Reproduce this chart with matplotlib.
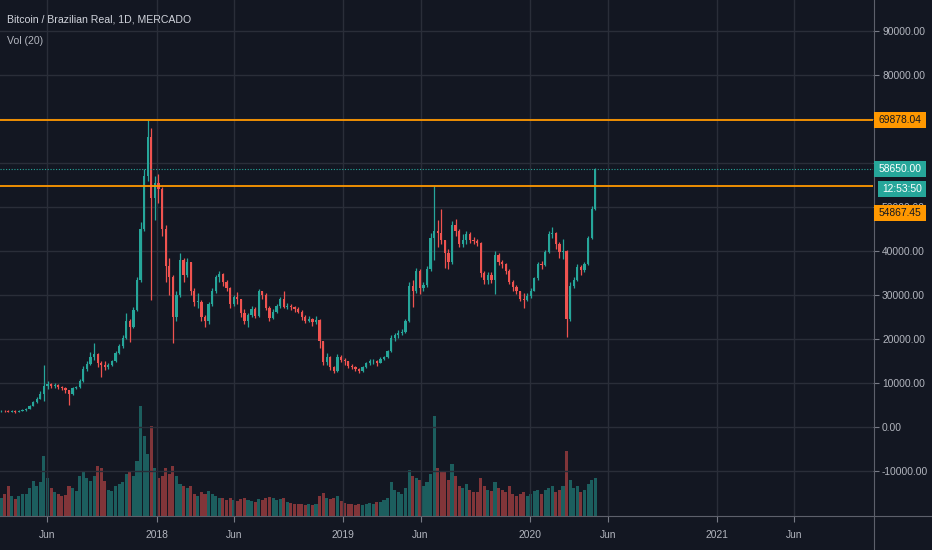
import numpy as np
import matplotlib
matplotlib.use("Agg")
import matplotlib.pyplot as plt
import matplotlib.dates as mdates
from matplotlib.patches import Rectangle
from matplotlib.lines import Line2D
from matplotlib.transforms import IdentityTransform
from matplotlib.ticker import FuncFormatter, FixedLocator

plt.rcParams['font.family'] = ['Liberation Sans', 'DejaVu Sans']

# ---------------- data (weekly candles, thousands of BRL) ----------------
week_start = '2017-02-27'
first_open_k = 3.6
close_k = [3.7, 3.6, 3.5, 3.7, 3.5, 3.7, 3.8, 4.2, 4.8, 5.6,
           6.4, 7.6, 9.3, 9.8, 9.4, 9.5, 9.1, 8.9, 8.4, 7.6,
           8.9, 9.0, 10.4, 13.2, 14.3, 15.8, 16.5, 14.5, 14.2, 13.6,
           14.0, 14.9, 16.8, 18.3, 20.2, 24.0, 22.8, 26.5, 33.4, 45.0,
           57.0, 66.0, 52.0, 55.5, 54.0, 45.0, 36.5, 34.0, 25.0, 30.0,
           38.0, 34.5, 37.5, 31.0, 28.5, 28.5, 25.0, 24.0, 28.0, 31.0,
           34.0, 34.8, 33.0, 31.5, 28.0, 29.5, 29.0, 26.0, 24.0, 25.5,
           26.8, 25.2, 30.8, 30.0, 27.0, 24.8, 26.2, 27.5, 29.0, 27.3,
           27.5, 27.2, 26.8, 26.2, 25.0, 24.2, 24.6, 23.8, 24.4, 19.5,
           14.8, 15.9, 13.6, 12.7, 15.8, 15.2, 15.0, 13.9, 13.7, 13.2,
           12.7, 13.6, 14.5, 14.9, 15.1, 14.6, 15.4, 15.9, 17.2, 20.2,
           20.8, 21.3, 21.6, 24.0, 32.0, 31.0, 35.5, 31.5, 32.2, 36.0,
           43.0, 44.5, 44.0, 42.5, 39.5, 37.5, 46.0, 44.5, 41.5, 42.5,
           43.8, 42.6, 42.2, 41.8, 35.0, 33.5, 34.6, 33.5, 39.0, 37.5,
           37.0, 35.5, 33.0, 31.8, 30.9, 29.2, 28.8, 29.8, 31.0, 33.8,
           37.0, 36.8, 39.8, 43.8, 44.0, 41.5, 39.8, 40.0, 24.5, 32.0,
           33.5, 36.4, 35.6, 37.0, 43.0, 49.5, 58.65]
high_k = [3.9, 3.9, 3.8, 3.9, 3.8, 3.9, 4.0, 4.4, 5.0, 5.9,
          6.8, 8.2, 14.0, 10.4, 10.1, 9.9, 9.7, 9.4, 9.0, 8.5,
          9.2, 9.4, 10.8, 13.8, 14.9, 17.0, 19.0, 16.8, 15.0, 14.9,
          14.6, 15.2, 17.2, 18.8, 20.8, 25.8, 24.5, 27.2, 34.0, 46.5,
          58.7, 69.88, 68.0, 57.0, 57.5, 54.5, 46.0, 38.5, 34.5, 31.0,
          39.5, 38.5, 38.5, 37.5, 31.5, 30.5, 28.8, 25.5, 28.5, 31.5,
          34.5, 35.5, 35.0, 33.5, 31.8, 30.0, 30.6, 29.2, 26.8, 26.0,
          27.5, 27.2, 31.3, 31.0, 30.5, 27.5, 26.8, 28.0, 29.5, 30.8,
          28.2, 27.9, 27.5, 27.2, 26.5, 25.5, 25.2, 24.8, 25.3, 24.6,
          19.5, 16.8, 16.2, 13.8, 16.5, 16.4, 15.6, 15.1, 14.3, 13.9,
          13.3, 13.9, 14.8, 15.4, 15.5, 15.3, 15.8, 16.2, 17.6, 21.0,
          21.3, 22.0, 22.3, 24.5, 33.0, 33.5, 36.2, 36.0, 33.0, 36.5,
          44.0, 54.87, 47.0, 49.5, 42.5, 40.5, 46.8, 47.2, 45.0, 43.8,
          44.5, 44.3, 43.2, 42.8, 42.0, 35.5, 35.3, 35.2, 40.0, 39.6,
          38.0, 37.2, 35.8, 33.4, 32.2, 31.0, 30.5, 30.5, 31.5, 34.2,
          37.6, 37.8, 40.3, 44.5, 45.4, 44.3, 42.0, 42.8, 40.2, 33.0,
          34.2, 37.0, 36.8, 37.5, 43.5, 50.2, 58.9]
low_k = [3.5, 3.4, 3.3, 3.4, 3.2, 3.4, 3.6, 3.7, 4.1, 4.7,
         5.5, 6.3, 5.8, 8.7, 8.9, 8.9, 8.6, 8.4, 7.8, 5.0,
         7.3, 8.6, 8.9, 10.2, 12.8, 14.2, 15.3, 13.6, 11.4, 13.0,
         13.1, 13.8, 14.7, 16.5, 18.0, 20.0, 19.4, 22.5, 26.3, 33.0,
         44.5, 56.0, 28.9, 47.0, 51.0, 43.5, 33.0, 30.0, 19.0, 24.0,
         29.5, 33.0, 34.0, 30.0, 27.5, 27.0, 24.0, 22.8, 23.5, 27.5,
         30.5, 33.0, 32.0, 30.8, 27.0, 27.5, 28.0, 25.0, 23.5, 22.8,
         25.0, 24.8, 25.0, 29.0, 26.5, 24.0, 24.5, 26.0, 27.0, 27.0,
         26.8, 26.6, 26.2, 25.8, 24.3, 23.6, 23.8, 22.9, 23.5, 18.0,
         14.0, 14.2, 13.0, 12.3, 12.4, 14.8, 14.2, 13.4, 13.1, 12.8,
         12.3, 12.6, 13.4, 14.1, 14.3, 13.9, 14.5, 15.2, 15.7, 17.0,
         19.5, 20.2, 20.8, 21.4, 23.8, 27.3, 30.5, 30.3, 30.8, 31.8,
         35.5, 38.0, 41.0, 41.5, 36.2, 36.0, 37.0, 43.5, 40.8, 41.0,
         41.5, 41.8, 41.5, 41.2, 34.0, 32.4, 32.5, 32.8, 30.2, 36.8,
         36.2, 34.8, 32.4, 31.0, 30.2, 28.7, 27.1, 28.6, 29.3, 30.8,
         33.5, 35.9, 36.5, 39.6, 43.0, 40.5, 38.4, 38.2, 20.4, 24.0,
         31.5, 33.2, 34.5, 35.2, 36.8, 42.8, 49.3]
volume = [18, 22, 30, 20, 17, 20, 22, 22, 28, 35,
          30, 34, 60, 38, 28, 24, 22, 20, 21, 30,
          28, 25, 40, 45, 38, 35, 40, 50, 48, 35,
          26, 25, 30, 32, 34, 42, 44, 40, 55, 110,
          80, 62, 90, 48, 38, 40, 48, 42, 50, 40,
          32, 30, 28, 30, 22, 20, 24, 22, 25, 22,
          20, 18, 18, 16, 18, 16, 15, 17, 18, 16,
          15, 14, 17, 16, 18, 19, 18, 16, 17, 18,
          14, 13, 12, 12, 12, 11, 12, 11, 12, 20,
          23, 18, 17, 18, 20, 15, 13, 12, 12, 11,
          12, 11, 12, 13, 12, 14, 14, 16, 18, 34,
          26, 24, 22, 28, 46, 40, 38, 36, 30, 34,
          42, 100, 48, 44, 45, 36, 52, 40, 30, 28,
          32, 26, 24, 24, 38, 30, 26, 25, 34, 28,
          26, 24, 30, 22, 20, 22, 24, 20, 22, 25,
          26, 22, 26, 28, 30, 24, 26, 30, 65, 36,
          28, 30, 24, 26, 32, 36, 38]

level_high = 69878.04
level_low = 54867.45
last_price = 58650.00
countdown = '12:53:50'
title = 'Bitcoin / Brazilian Real, 1D, MERCADO'
vol_title = 'Vol (20)'
price_ticks = list(range(-10000, 100000, 10000))
hidden_price_labels = [60000, 70000]

# ---------------- derived arrays ----------------
c = np.array(close_k) * 1000
h = np.array(high_k) * 1000
l = np.array(low_k) * 1000
o = np.concatenate([[first_open_k * 1000], c[:-1]])
n = len(c)
starts = np.datetime64(week_start) + np.arange(n) * np.timedelta64(7, 'D')
xs = mdates.date2num(starts) + 3.5
up = c >= o
UP, DN = '#26a69a', '#ef5350'
cols = np.where(up, UP, DN)
vcols = [(0.149, 0.651, 0.604, 0.5) if u else (0.937, 0.325, 0.314, 0.5) for u in up]

# ---------------- figure ----------------
W, H = 932, 550
BG = '#131722'
FS = 7.4
fig = plt.figure(figsize=(W / 100, H / 100), dpi=100)
fig.patch.set_facecolor(BG)
rect = [0, 34 / H, 873 / W, 516 / H]

x0 = mdates.date2num(np.datetime64('2018-01-01'))
ppd = 0.5114
xlim = (x0 - 156.7 / ppd, x0 + (873 - 156.7) / ppd)

axv = fig.add_axes(rect, zorder=0)
axv.set_facecolor(BG)
axv.bar(xs, volume, width=6.0, color=vcols, linewidth=0)
axv.set_xlim(*xlim)
axv.set_ylim(0, 516)
axv.axis('off')

ax = fig.add_axes(rect, zorder=1)
ax.patch.set_alpha(0)
ax.set_xlim(*xlim)
ax.set_ylim(-20227, 97045)

ax.grid(True, color='#2a2e39', linewidth=1.0)
ax.set_axisbelow(True)

ax.vlines(xs, l, h, colors=cols, linewidth=0.9, zorder=3)
ax.bar(xs, np.maximum(np.abs(c - o), 150), bottom=np.minimum(o, c), width=4.4,
       color=cols, linewidth=0, zorder=3.1)

ax.axhline(level_high, color='#ff9800', linewidth=1.3, zorder=4)
ax.axhline(level_low, color='#ff9800', linewidth=1.3, zorder=4)
ax.axhline(last_price, color=UP, linewidth=0.8, linestyle=(0, (1, 1.5)), zorder=4)

for s in ax.spines.values():
    s.set_visible(False)

# y axis on right
ax.yaxis.tick_right()
ax.yaxis.set_major_locator(FixedLocator(price_ticks))
ax.yaxis.set_major_formatter(FuncFormatter(
    lambda v, p: '' if int(round(v)) in hidden_price_labels else f'{v:.2f}'))
ax.tick_params(axis='y', length=4, width=0.8, color='#787b86', labelcolor='#b2b5be',
               labelsize=FS, pad=2.5)

# x axis
ax.xaxis.set_major_locator(mdates.MonthLocator(bymonth=[1, 6]))
ax.xaxis.set_major_formatter(FuncFormatter(
    lambda v, p: 'Jun' if mdates.num2date(v).month == 6 else str(mdates.num2date(v).year)))
ax.tick_params(axis='x', length=4, width=0.8, color='#787b86', labelcolor='#b2b5be',
               labelsize=FS, pad=6)

# separators
fig.add_artist(Line2D([873.5, 873.5], [0, H], transform=IdentityTransform(),
                      color='#5d606b', linewidth=0.8, zorder=6))
fig.add_artist(Line2D([0, W], [34, 34], transform=IdentityTransform(),
                      color='#5d606b', linewidth=0.8, zorder=6))

# titles
fig.text(7 / W, 1 - 20 / H, title, color='#d1d4dc', fontsize=7.6, va='center', ha='left')
fig.text(7 / W, 1 - 41 / H, vol_title, color='#b2b5be', fontsize=7.6, va='center', ha='left')


def price_box(price, text, face, tcol, shift_px=0, xa=873.5, xb=926, hh=16):
    yd = ax.transData.transform((0, price))[1] - shift_px
    fig.add_artist(Rectangle((xa, yd - hh / 2), xb - xa, hh, transform=IdentityTransform(),
                             facecolor=face, edgecolor='none', zorder=7))
    fig.text((xa + xb) / 2 / W, yd / H, text, ha='center', va='center', color=tcol,
             fontsize=FS, zorder=8)


price_box(level_high, f'{level_high:.2f}', '#ff9800', '#131722')
price_box(last_price, f'{last_price:.2f}', UP, '#ffffff')
price_box(last_price, countdown, UP, '#ffffff', shift_px=20, xa=877.5)
price_box(level_low, f'{level_low:.2f}', '#ff9800', '#131722', shift_px=27.5)

fig.savefig('out.png', dpi=100, facecolor=BG)
